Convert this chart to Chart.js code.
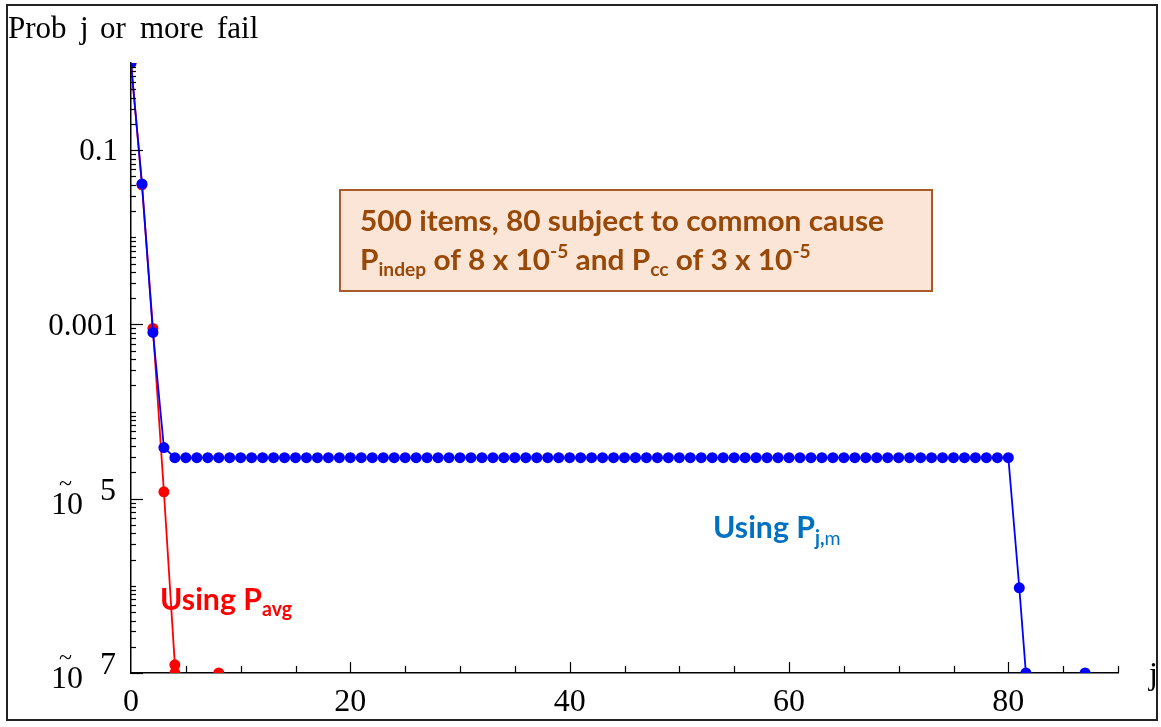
<!DOCTYPE html>
<html>
<head>
<meta charset="utf-8">
<script src="https://cdn.jsdelivr.net/npm/chart.js@4.4.0/dist/chart.umd.min.js"></script>
<style>
  html, body { margin: 0; padding: 0; background: #fff; }
  canvas { display: block; }
</style>
</head>
<body>
<canvas id="chart" width="1161" height="727"></canvas>
<script>
// ── Data ───────────────────────────────────────────────────────────────────
// Blue: "Using P_j,m". Points at 1e-7 sit on the bottom edge (clipped in the original).
const blueJ = [
  0, 1, 2, 3, 4, 5, 6, 7, 8, 9, 10, 11, 12, 13, 14, 15, 16, 17, 18, 19, 20,
  21, 22, 23, 24, 25, 26, 27, 28, 29, 30, 31, 32, 33, 34, 35, 36, 37, 38, 39, 40,
  41, 42, 43, 44, 45, 46, 47, 48, 49, 50, 51, 52, 53, 54, 55, 56, 57, 58, 59, 60,
  61, 62, 63, 64, 65, 66, 67, 68, 69, 70, 71, 72, 73, 74, 75, 76, 77, 78, 79, 80,
  81, 81.6, 84, 87
];
const blueP = [
  1, 0.041, 8.1e-4, 3.86e-5,
  2.96e-5, 2.96e-5, 2.96e-5, 2.96e-5, 2.96e-5, 2.96e-5, 2.96e-5, 2.96e-5, 2.96e-5, 2.96e-5, 2.96e-5,
  2.96e-5, 2.96e-5, 2.96e-5, 2.96e-5, 2.96e-5, 2.96e-5, 2.96e-5, 2.96e-5, 2.96e-5, 2.96e-5, 2.96e-5,
  2.96e-5, 2.96e-5, 2.96e-5, 2.96e-5, 2.96e-5, 2.96e-5, 2.96e-5, 2.96e-5, 2.96e-5, 2.96e-5, 2.96e-5,
  2.96e-5, 2.96e-5, 2.96e-5, 2.96e-5, 2.96e-5, 2.96e-5, 2.96e-5, 2.96e-5, 2.96e-5, 2.96e-5, 2.96e-5,
  2.96e-5, 2.96e-5, 2.96e-5, 2.96e-5, 2.96e-5, 2.96e-5, 2.96e-5, 2.96e-5, 2.96e-5, 2.96e-5, 2.96e-5,
  2.96e-5, 2.96e-5, 2.96e-5, 2.96e-5, 2.96e-5, 2.96e-5, 2.96e-5, 2.96e-5, 2.96e-5, 2.96e-5, 2.96e-5,
  2.96e-5, 2.96e-5, 2.96e-5, 2.96e-5, 2.96e-5, 2.96e-5, 2.96e-5, 2.96e-5, 2.96e-5, 2.96e-5, 2.96e-5,
  9.5e-7, 1e-7, null, 1e-7
];

// Red: "Using P_avg"
const redJ = [0, 1, 2, 3, 4, 4, 6, 8];
const redP = [1, 0.04, 9.0e-4, 1.2e-5, 1.24e-7, 1e-7, null, 1e-7];

// Axis ticks
const xTickValues = [0, 20, 40, 60, 80];
const xTickLabels = ['0', '20', '40', '60', '80'];
const yTickValues = [0.1, 0.001, 1e-5, 1e-7];
const yTickBase   = ['0.1', '0.001', '10', '10'];
const yTickExp    = ['', '', '5', '7'];

// title words and where each starts (the original spaces them loosely)
const yTitleWords = ['Prob', 'j', 'or', 'more', 'fail'];
const yTitleX     = [8, 80, 100, 140, 217];
const xTitle = 'j';

const toPoints = (xs, ys) => xs.map((x, i) => ({ x, y: ys[i] }));

// ── Text helpers ───────────────────────────────────────────────────────────
function txt(ctx, s, x, y, font, color, align = 'left', base = 'alphabetic') {
  ctx.font = font;
  ctx.fillStyle = color;
  ctx.textAlign = align;
  ctx.textBaseline = base;
  ctx.fillText(s, x, y);
  return ctx.measureText(s).width;
}

// runs of [text, font, dy] drawn one after another, squeezed by sx
function runs(ctx, parts, x, y, color, sx) {
  ctx.save();
  ctx.translate(x, y);
  ctx.scale(sx, 1);
  let cx = 0;
  parts.forEach(([s, font, dy]) => {
    cx += txt(ctx, s, cx, dy || 0, font, color);
  });
  ctx.restore();
}

const SERIF = '"Liberation Serif", "Times New Roman", serif';
const SANS  = 'Lato, "Open Sans", sans-serif';

// ── Decorations: inward ticks, labels, notes, frame ────────────────────────
const decor = {
  id: 'decor',
  afterDraw(chart) {
    const ctx = chart.ctx;
    const xs = chart.scales.x, ys = chart.scales.y;
    const a = chart.chartArea;
    ctx.save();

    // x ticks every 5, longer on labelled ones
    ctx.strokeStyle = '#000';
    ctx.lineWidth = 1.2;
    for (let v = 5; v <= 90; v += 5) {
      const px = Math.round(xs.getPixelForValue(v)) + 0.5;
      const len = v % 20 === 0 ? 11 : 7;
      ctx.beginPath(); ctx.moveTo(px, a.bottom); ctx.lineTo(px, a.bottom - len); ctx.stroke();
    }
    xTickValues.forEach((v, i) => {
      txt(ctx, xTickLabels[i], xs.getPixelForValue(v), a.bottom + 30, '32px ' + SERIF, '#000', 'center', 'middle');
    });

    // y ticks: 1..9 per decade
    for (let e = -7; e < 0; e++) {
      for (let m = 1; m <= 9; m++) {
        const v = m * Math.pow(10, e);
        const py = Math.round(ys.getPixelForValue(v)) + 0.5;
        const len = m === 1 ? (Math.abs(e) % 2 === 1 ? 12 : 5) : 5;
        ctx.beginPath(); ctx.moveTo(a.left, py); ctx.lineTo(a.left + len, py); ctx.stroke();
      }
    }
    yTickValues.forEach((v, i) => {
      const py = ys.getPixelForValue(v);
      if (!yTickExp[i]) {
        txt(ctx, yTickBase[i], a.left - 13, py + 2, '31px ' + SERIF, '#000', 'right', 'middle');
      } else {
        txt(ctx, yTickBase[i], 51, py + 7, '32px ' + SERIF, '#000', 'left', 'middle');
        txt(ctx, '~', 59, py - 14, '24px ' + SERIF, '#000', 'left', 'middle');
        txt(ctx, yTickExp[i], 100, py - 7, '32px ' + SERIF, '#000', 'left', 'middle');
      }
    });

    // axis titles
    yTitleWords.forEach((w, i) => txt(ctx, w, yTitleX[i], 38, '31px ' + SERIF, '#000', 'left', 'alphabetic'));
    txt(ctx, xTitle, 1149, 684, '32px ' + SERIF, '#000', 'left', 'alphabetic');

    // note box
    ctx.fillStyle = '#FBE5D6';
    ctx.fillRect(340, 190, 592, 101);
    ctx.strokeStyle = '#A85A2A';
    ctx.lineWidth = 2;
    ctx.strokeRect(340, 190, 592, 101);

    const boxCol = '#984807';
    const bBig = 'bold 28px ' + SANS, bSmall = 'bold 18px ' + SANS;
    ctx.font = bBig;
    const line1 = '500 items, 80 subject to common cause';
    const sx = 524 / ctx.measureText(line1).width;
    runs(ctx, [[line1, bBig]], 360, 231, boxCol, sx);
    runs(ctx, [
      ['P', bBig], ['indep', bSmall, 6], [' of 8 x 10', bBig], ['-5', bSmall, -12],
      [' and P', bBig], ['cc', bSmall, 6], [' of 3 x 10', bBig], ['-5', bSmall, -12]
    ], 360, 270, boxCol, sx);

    // series labels
    const lBig = 'bold 31px ' + SANS;
    ctx.font = lBig;
    const lx = 102 / ctx.measureText('Using P').width;
    runs(ctx, [['Using P', lBig], ['avg', 'bold 20px ' + SANS, 6]], 160, 610, '#FF0000', lx);
    runs(ctx, [['Using P', lBig], ['j,', 'bold 20px ' + SANS, 7], ['m', '20px ' + SANS, 7]], 713, 538, '#0070C0', lx);

    // outer frame
    ctx.strokeStyle = '#222';
    ctx.lineWidth = 2;
    ctx.strokeRect(7, 5, 1150, 715);
    ctx.restore();
  }
};

// ── Chart ──────────────────────────────────────────────────────────────────
const seriesStyle = color => ({
  borderColor: color,
  backgroundColor: color,
  borderWidth: 1.8,
  pointRadius: 5.5,
  pointBorderWidth: 0,
  pointBackgroundColor: color,
  spanGaps: false,
  tension: 0,
  clip: 0,
});

new Chart(document.getElementById('chart').getContext('2d'), {
  type: 'line',
  data: {
    datasets: [
      { label: 'Using P_j,m', data: toPoints(blueJ, blueP), order: 0, ...seriesStyle('#0000FF') },
      { label: 'Using P_avg', data: toPoints(redJ, redP), order: 1, ...seriesStyle('#FF0000') },
    ]
  },
  options: {
    responsive: false,
    animation: false,
    devicePixelRatio: 1,
    layout: { padding: { left: 131, top: 63, right: 43, bottom: 54 } },
    plugins: { legend: { display: false }, tooltip: { enabled: false } },
    scales: {
      x: {
        type: 'linear', min: 0, max: 90,
        grid: { display: false, drawTicks: false },
        border: { display: true, color: '#000', width: 1.5 },
        ticks: { display: false },
      },
      y: {
        type: 'logarithmic', min: 1e-7, max: 1,
        grid: { display: false, drawTicks: false },
        border: { display: true, color: '#000', width: 1.5 },
        ticks: { display: false },
      }
    }
  },
  plugins: [decor]
});
</script>
</body>
</html>
